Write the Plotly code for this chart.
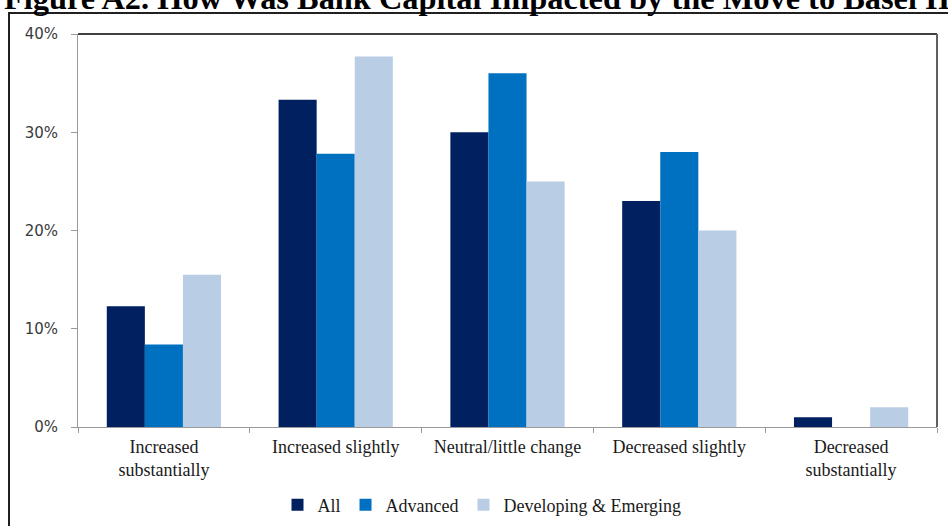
import plotly.graph_objects as go

categories = ["Increased<br>substantially", "Increased slightly", "Neutral/little change",
              "Decreased slightly", "Decreased<br>substantially"]
all_vals = [12.3, 33.3, 30.0, 23.0, 1.0]
advanced_vals = [8.4, 27.8, 36.0, 28.0, 0.0]
dev_vals = [15.5, 37.7, 25.0, 20.0, 2.0]
series_names = ["All", "Advanced", "Developing & Emerging"]
series_colors = ["#002060", "#0070C0", "#B9CDE5"]
y_ticks = [0, 10, 20, 30, 40]
y_tick_text = ["0%", "10%", "20%", "30%", "40%"]
title_text = "Figure A2. How Was Bank Capital Impacted by the Move to Basel II"

W, H = 948, 526
ML, MR, MT, MB = 78, 11, 34, 99
PW, PH = W - ML - MR, H - MT - MB

def px_x(x):
    return (x - ML) / PW

def px_y(y):
    return (H - MB - y) / PH

fig = go.Figure()
for name, vals, col in zip(series_names, [all_vals, advanced_vals, dev_vals], series_colors):
    fig.add_trace(go.Bar(x=categories, y=vals, name=name, marker=dict(color=col, line=dict(width=0))))

serif = "Liberation Serif, Times New Roman, serif"
fig.update_layout(
    width=W, height=H,
    margin=dict(l=ML, r=MR, t=MT, b=MB, autoexpand=False),
    paper_bgcolor="white", plot_bgcolor="white",
    barmode="group", bargap=0.335, bargroupgap=0,
    showlegend=True,
    legend=dict(orientation="h", x=px_x(482), xanchor="center", y=px_y(505), yanchor="middle",
                font=dict(family=serif, size=18, color="#1a1a1a"), itemwidth=30,
                traceorder="normal"),
    xaxis=dict(showline=True, linecolor="#9a9a9a", linewidth=1, ticks="outside", ticklen=5,
               tickcolor="#9a9a9a", tickson="boundaries", showgrid=False, automargin=False,
               tickfont=dict(family=serif, size=18, color="#1a1a1a"), fixedrange=True,
               ticklabelstandoff=3),
    yaxis=dict(range=[0, 40], tickvals=y_ticks, ticktext=y_tick_text, showline=True, linecolor="#9a9a9a",
               linewidth=1, ticks="outside", ticklen=6, tickcolor="#9a9a9a", showgrid=False,
               zeroline=False, automargin=False,
               tickfont=dict(family="DejaVu Sans, Verdana, sans-serif", size=15, color="#3a3a3a"),
               ticklabelstandoff=10),
    font=dict(family=serif),
)

# plot-area border (top and right)
fig.add_shape(type="line", xref="paper", yref="paper", x0=0, x1=1, y0=1, y1=1,
              line=dict(color="#404040", width=2))
fig.add_shape(type="line", xref="paper", yref="paper", x0=1, x1=1, y0=0, y1=1,
              line=dict(color="#606060", width=2))
# outer frame
fig.add_shape(type="rect", xref="paper", yref="paper", x0=px_x(9), x1=px_x(960), y0=px_y(540), y1=px_y(13),
              line=dict(color="#202020", width=2), fillcolor="rgba(0,0,0,0)", layer="below")

fig.add_annotation(text="<b>" + title_text + "</b>", xref="paper", yref="paper",
                   x=px_x(2), xanchor="left", y=px_y(-2), yanchor="middle", showarrow=False,
                   font=dict(family=serif, size=32.4, color="#000000"))

fig.write_html("out.html")
